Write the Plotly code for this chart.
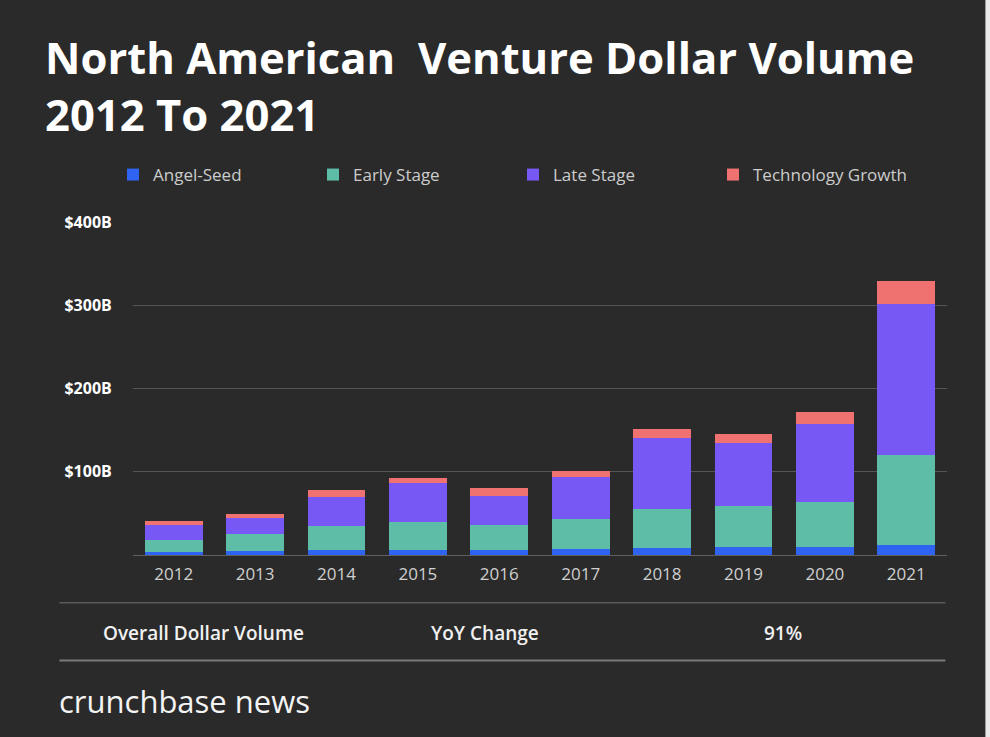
import plotly.graph_objects as go

years = ["2012", "2013", "2014", "2015", "2016", "2017", "2018", "2019", "2020", "2021"]
angel_seed = [3.6, 4.8, 6.4, 6.4, 6.4, 7.2, 8.0, 9.6, 9.6, 12.0]
early_stage = [14.0, 19.9, 27.9, 33.2, 30.0, 36.4, 47.6, 48.8, 53.6, 108.4]
late_stage = [18.0, 19.7, 36.0, 47.2, 34.8, 50.0, 84.8, 76.0, 94.0, 181.2]
tech_growth = [4.7, 4.8, 7.7, 5.6, 8.8, 7.6, 10.8, 11.2, 15.2, 27.6]

y_ticks = [0, 100, 200, 300, 400]
y_tick_labels = ["", "$100B", "$200B", "$300B", "$400B"]

footer_labels = ["Overall Dollar Volume", "YoY Change", "91%"]

BG = "#2a2a2a"
W, H = 990, 737
L, R = 132.6, 946.6
T, B = 222.0, 555.3
FONT = "Open Sans"


def px(x):
    return (x - L) / (R - L)


def py(y):
    return (B - y) / (B - T)


fig = go.Figure()
series = [
    ("Angel-Seed", angel_seed, "#2f63f2"),
    ("Early Stage", early_stage, "#5dbda7"),
    ("Late Stage", late_stage, "#7858f4"),
    ("Technology Growth", tech_growth, "#ef7270"),
]
for name, vals, col in series:
    fig.add_trace(go.Bar(x=years, y=vals, name=name, marker=dict(color=col, line=dict(width=0)),
                         hoverinfo="skip"))

annotations = [
    dict(text="North American\u00a0 Venture Dollar Volume", x=px(43), y=py(57), xref="paper", yref="paper",
         xanchor="left", yanchor="middle", showarrow=False,
         font=dict(family=FONT, size=43.6, color="#ffffff", weight="bold")),
    dict(text="2012 To 2021", x=px(43), y=py(114), xref="paper", yref="paper",
         xanchor="left", yanchor="middle", showarrow=False,
         font=dict(family=FONT, size=43.6, color="#ffffff", weight="bold")),
    dict(text=footer_labels[0], x=px(203), y=py(633), xref="paper", yref="paper",
         xanchor="center", yanchor="middle", showarrow=False,
         font=dict(family=FONT, size=19, color="#f0f0f0", weight=600)),
    dict(text=footer_labels[1], x=px(485), y=py(633), xref="paper", yref="paper",
         xanchor="center", yanchor="middle", showarrow=False,
         font=dict(family=FONT, size=19, color="#f0f0f0", weight=600)),
    dict(text=footer_labels[2], x=px(783), y=py(633), xref="paper", yref="paper",
         xanchor="center", yanchor="middle", showarrow=False,
         font=dict(family=FONT, size=19, color="#f0f0f0", weight=600)),
    dict(text="crunchbase news", x=px(57), y=py(701), xref="paper", yref="paper",
         xanchor="left", yanchor="middle", showarrow=False,
         font=dict(family=FONT, size=31, color="#f4f4f4")),
]

shapes = [
    dict(type="line", xref="paper", yref="paper", x0=px(59), x1=px(945), y0=py(603), y1=py(603),
         line=dict(color="#5a5a5a", width=1.5)),
    dict(type="line", xref="paper", yref="paper", x0=px(59), x1=px(945), y0=py(661), y1=py(661),
         line=dict(color="#7a7a7a", width=2)),
    dict(type="rect", xref="paper", yref="paper", x0=px(985), x1=px(990), y0=py(-2), y1=py(739),
         line=dict(width=0), fillcolor="#e8e8e8"),
]

fig.update_layout(
    width=W, height=H,
    paper_bgcolor=BG, plot_bgcolor=BG,
    barmode="stack", bargap=0.29,
    margin=dict(l=L, r=W - R, t=T, b=H - B, pad=0),
    font=dict(family=FONT, color="#d0d0d0"),
    showlegend=True,
    legend=dict(orientation="h", x=113 / W, y=1 - 175 / H, xref="container", yref="container",
                xanchor="left", yanchor="middle", bgcolor="rgba(0,0,0,0)",
                font=dict(family=FONT, size=17, color="#cccccc"),
                entrywidth=155, entrywidthmode="pixels", traceorder="normal"),
    annotations=annotations,
    shapes=shapes,
)
fig.update_xaxes(type="category", range=[-0.5, 9.5], showgrid=False, showline=False, zeroline=False,
                 ticks="outside", ticklen=4, tickcolor="rgba(0,0,0,0)",
                 tickfont=dict(family=FONT, size=17, color="#d0d0d0"))
fig.update_yaxes(range=[0, 400.5], tickvals=y_ticks, ticktext=y_tick_labels, showgrid=True,
                 gridcolor="#555555", gridwidth=1, zeroline=True, zerolinecolor="#606060", zerolinewidth=1,
                 showline=False, ticks="outside", ticklen=17, tickcolor="rgba(0,0,0,0)",
                 tickfont=dict(family=FONT, size=16, color="#ffffff", weight="bold"))

fig.write_html("out.html")
